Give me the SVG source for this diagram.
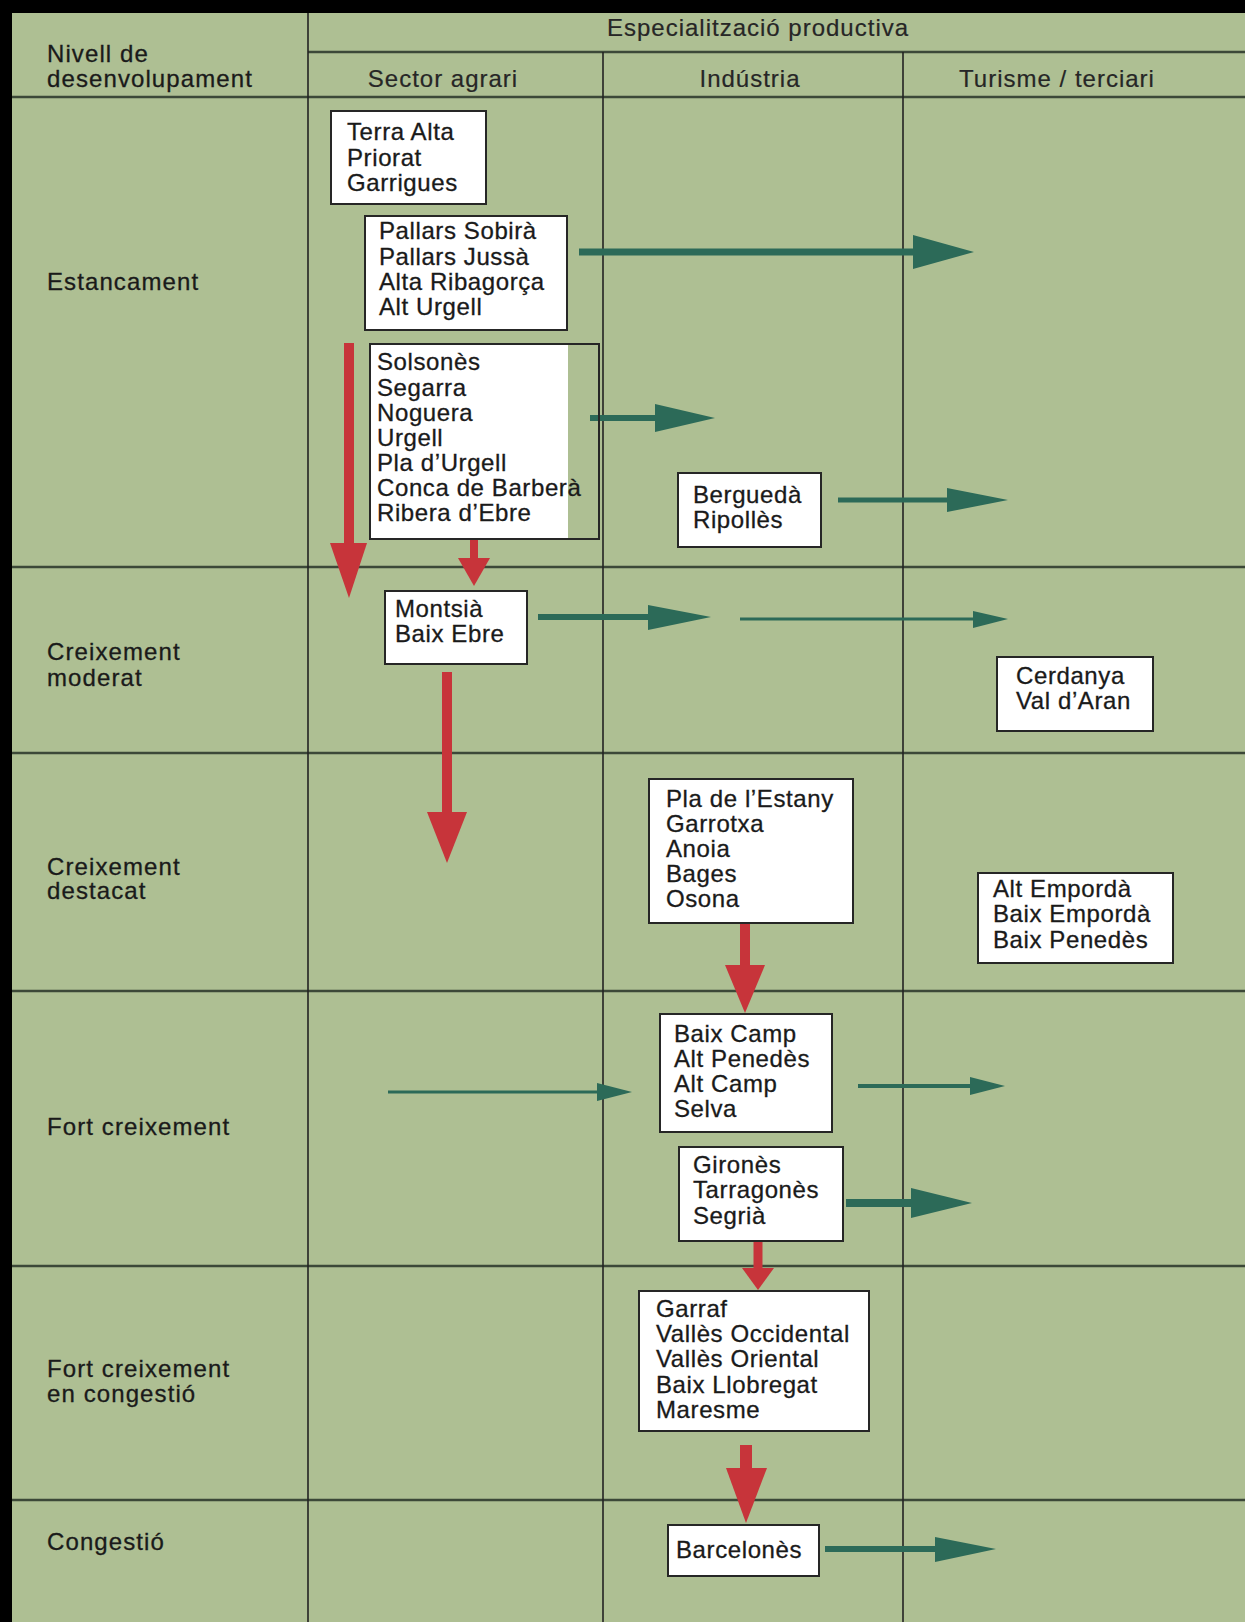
<svg xmlns="http://www.w3.org/2000/svg" width="1245" height="1622" viewBox="0 0 1245 1622">
<style>
.t{font-family:"Liberation Sans",Arial,sans-serif;font-size:24px;fill:#1a1a1a;stroke:#1a1a1a;stroke-width:0.3px;letter-spacing:0.6px}
.lbl{font-family:"Liberation Sans",Arial,sans-serif;font-size:24px;fill:#1a1a1a;stroke:#1a1a1a;stroke-width:0.3px;letter-spacing:1.1px}
.hd{font-family:"Liberation Sans",Arial,sans-serif;font-size:24px;fill:#262626;stroke:#262626;stroke-width:0.2px;letter-spacing:1px;text-anchor:middle}
.box{fill:#ffffff;stroke:#262626;stroke-width:2}
.vl{stroke:#222;stroke-width:1.6;fill:none}
.hl{stroke:#3c4838;stroke-width:2.6;fill:none}
.g{stroke:#2c6a58;fill:none}
.gh{fill:#2c6a58}
.r{stroke:#c7343a;fill:none}
.rh{fill:#c7343a}
</style>
<rect x="0" y="0" width="1245" height="1622" fill="#aebf93"/>
<g id="grid">
<rect x="0" y="0" width="1245" height="13" fill="#000"/>
<rect x="0" y="0" width="12" height="1622" fill="#000"/>
<line class="hl" x1="308" y1="52" x2="1245" y2="52"/>
<line class="hl" x1="12" y1="97" x2="1245" y2="97"/>
<line class="hl" x1="12" y1="567" x2="1245" y2="567"/>
<line class="hl" x1="12" y1="753" x2="1245" y2="753"/>
<line class="hl" x1="12" y1="991" x2="1245" y2="991"/>
<line class="hl" x1="12" y1="1266" x2="1245" y2="1266"/>
<line class="hl" x1="12" y1="1500" x2="1245" y2="1500"/>
<line class="vl" x1="308" y1="13" x2="308" y2="1622"/>
<line class="vl" x1="603" y1="52" x2="603" y2="1622"/>
<line class="vl" x1="903" y1="52" x2="903" y2="1622"/>
</g>
<g id="headers">
<text class="hd" x="758" y="36">Especialització productiva</text>
<text class="lbl" x="47" y="62">Nivell de</text>
<text class="lbl" x="47" y="87">desenvolupament</text>
<text class="hd" x="443" y="87">Sector agrari</text>
<text class="hd" x="750" y="87">Indústria</text>
<text class="hd" x="1057" y="87">Turisme / terciari</text>
</g>
<g id="row-labels">
<text class="lbl" x="47" y="290">Estancament</text>
<text class="lbl" x="47" y="660">Creixement</text>
<text class="lbl" x="47" y="686">moderat</text>
<text class="lbl" x="47" y="875">Creixement</text>
<text class="lbl" x="47" y="899">destacat</text>
<text class="lbl" x="47" y="1135">Fort creixement</text>
<text class="lbl" x="47" y="1377">Fort creixement</text>
<text class="lbl" x="47" y="1402">en congestió</text>
<text class="lbl" x="47" y="1550">Congestió</text>
</g>
<g id="connectors">
<line class="g" x1="579" y1="252" x2="914" y2="252" stroke-width="7"/>
<polygon class="gh" points="913,235 974,252 913,269"/>
<line class="g" x1="590" y1="418" x2="656" y2="418" stroke-width="6"/>
<polygon class="gh" points="655,404 715,418 655,432"/>
<line class="g" x1="838" y1="500" x2="948" y2="500" stroke-width="5"/>
<polygon class="gh" points="947,488 1008,500 947,512"/>
<line class="g" x1="538" y1="617" x2="649" y2="617" stroke-width="6"/>
<polygon class="gh" points="648,605 711,617 648,630"/>
<line class="g" x1="740" y1="619" x2="974" y2="619" stroke-width="3"/>
<polygon class="gh" points="973,611 1008,619 973,628"/>
<line class="g" x1="388" y1="1092" x2="598" y2="1092" stroke-width="3"/>
<polygon class="gh" points="597,1083 632,1092 597,1101"/>
<line class="g" x1="858" y1="1086" x2="971" y2="1086" stroke-width="4"/>
<polygon class="gh" points="970,1077 1005,1086 970,1095"/>
<line class="g" x1="846" y1="1203" x2="912" y2="1203" stroke-width="8"/>
<polygon class="gh" points="911,1188 972,1203 911,1218"/>
<line class="g" x1="825" y1="1549" x2="936" y2="1549" stroke-width="6"/>
<polygon class="gh" points="935,1537 996,1549 935,1562"/>
<line class="r" x1="349" y1="343" x2="349" y2="544" stroke-width="10"/>
<polygon class="rh" points="330,543 367,543 349,598"/>
<line class="r" x1="474" y1="539" x2="474" y2="559" stroke-width="8"/>
<polygon class="rh" points="458,558 490,558 474,586"/>
<line class="r" x1="447" y1="672" x2="447" y2="813" stroke-width="10"/>
<polygon class="rh" points="427,812 467,812 447,863"/>
<line class="r" x1="745" y1="923" x2="745" y2="966" stroke-width="10"/>
<polygon class="rh" points="725,965 765,965 745,1013"/>
<line class="r" x1="758" y1="1241" x2="758" y2="1269" stroke-width="9"/>
<polygon class="rh" points="742,1268 774,1268 758,1290"/>
<line class="r" x1="746" y1="1445" x2="746" y2="1469" stroke-width="12"/>
<polygon class="rh" points="726,1468 767,1468 746,1523"/>
</g>
<g id="terra-alta">
<rect class="box" x="331" y="111" width="155" height="93"/>
<text class="t" x="347" y="140">Terra Alta</text>
<text class="t" x="347" y="166">Priorat</text>
<text class="t" x="347" y="191">Garrigues</text>
</g>
<g id="pallars">
<rect class="box" x="365" y="216" width="202" height="114"/>
<text class="t" x="379" y="239">Pallars Sobirà</text>
<text class="t" x="379" y="265">Pallars Jussà</text>
<text class="t" x="379" y="290">Alta Ribagorça</text>
<text class="t" x="379" y="315">Alt Urgell</text>
</g>
<g id="solsones">
<rect x="370" y="344" width="198" height="195" fill="#ffffff"/>
<rect x="370" y="344" width="229" height="195" fill="none" stroke="#262626" stroke-width="2"/>
<text class="t" x="377" y="370">Solsonès</text>
<text class="t" x="377" y="396">Segarra</text>
<text class="t" x="377" y="421">Noguera</text>
<text class="t" x="377" y="446">Urgell</text>
<text class="t" x="377" y="471">Pla d’Urgell</text>
<text class="t" x="377" y="496">Conca de Barberà</text>
<text class="t" x="377" y="521">Ribera d’Ebre</text>
</g>
<g id="bergueda">
<rect class="box" x="678" y="473" width="143" height="74"/>
<text class="t" x="693" y="503">Berguedà</text>
<text class="t" x="693" y="528">Ripollès</text>
</g>
<g id="montsia">
<rect class="box" x="385" y="591" width="142" height="73"/>
<text class="t" x="395" y="617">Montsià</text>
<text class="t" x="395" y="642">Baix Ebre</text>
</g>
<g id="cerdanya">
<rect class="box" x="997" y="657" width="156" height="74"/>
<text class="t" x="1016" y="684">Cerdanya</text>
<text class="t" x="1016" y="709">Val d’Aran</text>
</g>
<g id="pla-estany">
<rect class="box" x="649" y="779" width="204" height="144"/>
<text class="t" x="666" y="807">Pla de l’Estany</text>
<text class="t" x="666" y="832">Garrotxa</text>
<text class="t" x="666" y="857">Anoia</text>
<text class="t" x="666" y="882">Bages</text>
<text class="t" x="666" y="907">Osona</text>
</g>
<g id="emporda">
<rect class="box" x="978" y="873" width="195" height="90"/>
<text class="t" x="993" y="897">Alt Empordà</text>
<text class="t" x="993" y="922">Baix Empordà</text>
<text class="t" x="993" y="948">Baix Penedès</text>
</g>
<g id="baix-camp">
<rect class="box" x="660" y="1014" width="172" height="118"/>
<text class="t" x="674" y="1042">Baix Camp</text>
<text class="t" x="674" y="1067">Alt Penedès</text>
<text class="t" x="674" y="1092">Alt Camp</text>
<text class="t" x="674" y="1117">Selva</text>
</g>
<g id="girones">
<rect class="box" x="679" y="1147" width="164" height="94"/>
<text class="t" x="693" y="1173">Gironès</text>
<text class="t" x="693" y="1198">Tarragonès</text>
<text class="t" x="693" y="1224">Segrià</text>
</g>
<g id="garraf">
<rect class="box" x="639" y="1291" width="230" height="140"/>
<text class="t" x="656" y="1317">Garraf</text>
<text class="t" x="656" y="1342">Vallès Occidental</text>
<text class="t" x="656" y="1367">Vallès Oriental</text>
<text class="t" x="656" y="1393">Baix Llobregat</text>
<text class="t" x="656" y="1418">Maresme</text>
</g>
<g id="barcelones">
<rect class="box" x="668" y="1525" width="151" height="51"/>
<text class="t" x="676" y="1558">Barcelonès</text>
</g>
</svg>
